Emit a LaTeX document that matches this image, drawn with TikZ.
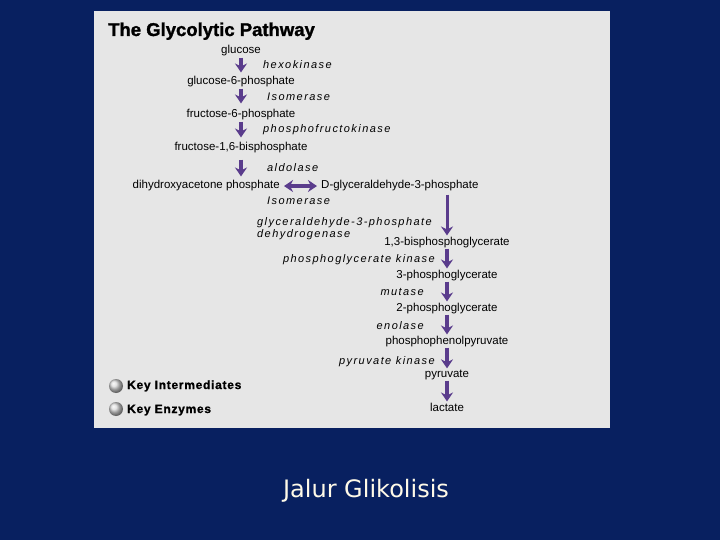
\documentclass[tikz,border=0pt]{standalone}
\usepackage{fontspec}
\setmainfont{Liberation Sans}
\newfontfamily\enzfont[LetterSpace=13]{Liberation Sans}
\newfontfamily\keyfont[LetterSpace=6,FakeBold=1.2]{Liberation Sans}
\newfontfamily\titlefont[FakeBold=1.5]{Liberation Sans}
\newfontfamily\slidefont{DejaVu Sans}
\usepackage{xcolor}
\usetikzlibrary{arrows.meta}
\definecolor{slideblue}{RGB}{8,32,96}
\definecolor{panelgray}{RGB}{230,230,230}
\definecolor{arrowpurple}{RGB}{90,60,140}
\definecolor{captioncream}{RGB}{255,250,232}

\begin{document}
\begin{tikzpicture}[x=1pt,y=-1pt,
    met/.style={inner sep=1pt, font=\fontsize{11.5}{12}\selectfont},
    enz/.style={inner sep=0pt, font=\enzfont\itshape\fontsize{11}{12.5}\selectfont},
    reac/.style={draw=arrowpurple, line width=3.6pt, -{Stealth[length=9pt,width=12pt]}},
    keyball/.style={circle, inner sep=0pt, minimum size=14pt, shade, ball color=gray!30}]

        % fundo do slide e painel
        \fill[slideblue] (0,0) rectangle (720,540);
        \fill[panelgray] (94,11) rectangle (610,428);

        \node[anchor=base west, inner sep=0pt, font=\titlefont\bfseries\fontsize{18.5}{20}\selectfont] (title) at (108,36) {The Glycolytic Pathway};

        % intermediarios
        \node[met, anchor=base] (glc) at (241,54) {glucose};
        \node[met, anchor=base] (g6p) at (241,85) {glucose-6-phosphate};
        \node[met, anchor=base] (f6p) at (241,118) {fructose-6-phosphate};
        \node[met, anchor=base] (fbp) at (241,151) {fructose-1,6-bisphosphate};
        \node[met, anchor=base east] (dhap) at (281,189) {dihydroxyacetone phosphate};
        \node[met, anchor=base west] (gap) at (320,189) {D-glyceraldehyde-3-phosphate};
        \node[met, anchor=base] (bpg) at (447,245) {1,3-bisphosphoglycerate};
        \node[met, anchor=base] (pga3) at (447,278) {3-phosphoglycerate};
        \node[met, anchor=base] (pga2) at (447,311) {2-phosphoglycerate};
        \node[met, anchor=base] (pep) at (447,344) {phosphophenolpyruvate};
        \node[met, anchor=base] (pyr) at (447,377) {pyruvate};
        \node[met, anchor=base] (lac) at (447,411) {lactate};

        % enzimas
        \node[enz, anchor=base west] (hk) at (263,69) {hexokinase};
        \node[enz, anchor=base west] (iso1) at (267,101) {Isomerase};
        \node[enz, anchor=base west] (pfk) at (263,133) {phosphofructokinase};
        \node[enz, anchor=base west] (ald) at (267,172) {aldolase};
        \node[enz, anchor=base west] (iso2) at (267,205) {Isomerase};
        \node[enz, anchor=north west, align=left] (gapdh) at (257,217) {glyceraldehyde-3-phosphate\\dehydrogenase};
        \node[enz, anchor=base east] (pgk) at (435,262) {phosphoglycerate kinase};
        \node[enz, anchor=base east] (pgm) at (424,295) {mutase};
        \node[enz, anchor=base east] (eno) at (424,329) {enolase};
        \node[enz, anchor=base east] (pk) at (435,364) {pyruvate kinase};

        % setas
        \draw[reac, shorten >=3pt] (glc.south) -- (g6p.north);
        \draw[reac, shorten >=5pt] (g6p.south) -- (f6p.north);
        \draw[reac, shorten >=4pt] (f6p.south) -- (fbp.north);
        \draw[reac, shorten <=5pt, shorten >=3pt] (fbp.south) -- (fbp.south |- dhap.north);
        \draw[reac, {Stealth[length=9pt,width=12pt]}-{Stealth[length=9pt,width=12pt]}, shorten <=3pt, shorten >=3pt] (dhap.east) -- (gap.west);
        \draw[reac, line width=3pt, shorten <=2pt] (gap.south -| bpg.north) -- (bpg.north);
        \draw[reac] (bpg.south) -- (pga3.north);
        \draw[reac] (pga3.south) -- (pga2.north);
        \draw[reac] (pga2.south) -- (pep.north);
        \draw[reac] (pep.south) -- (pyr.north);
        \draw[reac] (pyr.south) -- (lac.north);

        % legenda
        \node[keyball] (keyb1) at (116,386) {};
        \node[anchor=base west, inner sep=0pt, font=\keyfont\bfseries\fontsize{12}{13}\selectfont] (keyint) at (127,389) {Key Intermediates};
        \node[keyball] (keyb2) at (116,409) {};
        \node[anchor=base west, inner sep=0pt, font=\keyfont\bfseries\fontsize{12}{13}\selectfont] (keyenz) at (127,413) {Key Enzymes};

        \node[anchor=base, inner sep=0pt, text=captioncream, font=\slidefont\fontsize{24}{26}\selectfont] (caption) at (366,497) {Jalur Glikolisis};
\end{tikzpicture}
\end{document}
